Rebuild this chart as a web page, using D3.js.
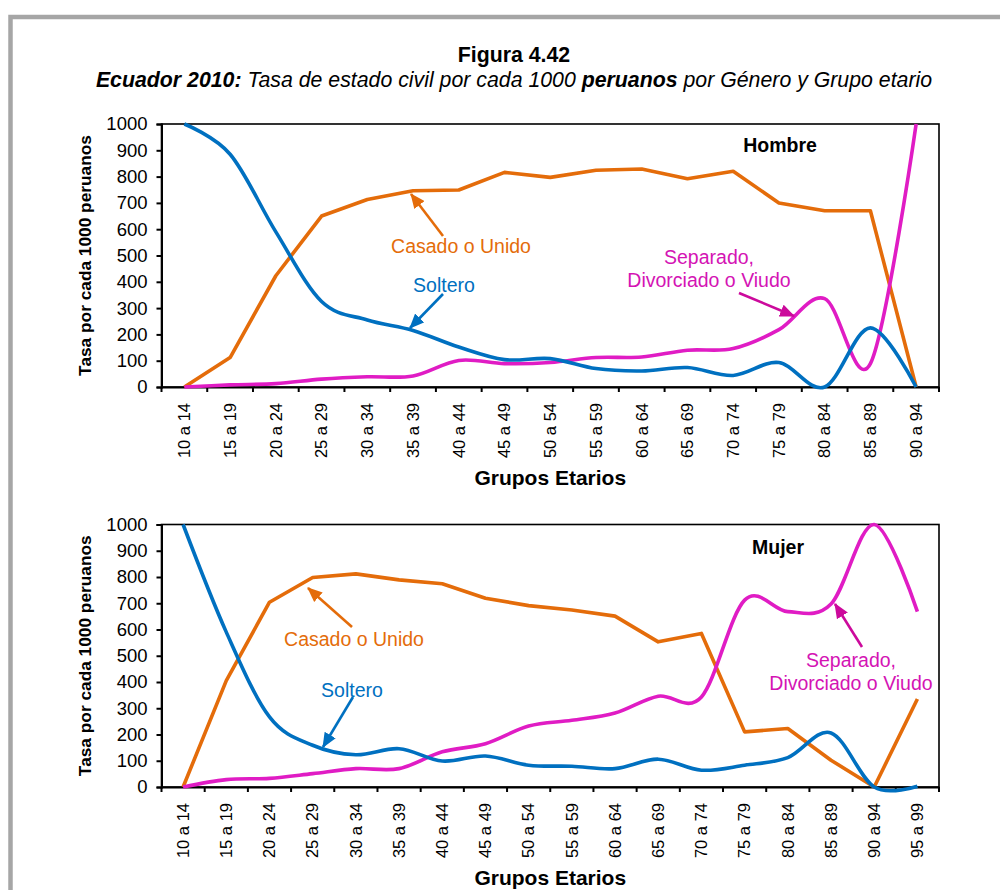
<!DOCTYPE html>
<html>
<head>
<meta charset="utf-8">
<script src="https://cdn.jsdelivr.net/npm/d3@7"></script>
<style>
  html, body { margin: 0; padding: 0; background: #ffffff; }
  svg { display: block; font-family: "Liberation Sans", Arial, sans-serif; }
</style>
</head>
<body>
<svg id="chart" width="1000" height="890"></svg>
<script>
// ---------- DATA ----------
const catsHombre = ["10 a 14","15 a 19","20 a 24","25 a 29","30 a 34","35 a 39","40 a 44","45 a 49","50 a 54","55 a 59","60 a 64","65 a 69","70 a 74","75 a 79","80 a 84","85 a 89","90 a 94"];
const catsMujer = ["10 a 14","15 a 19","20 a 24","25 a 29","30 a 34","35 a 39","40 a 44","45 a 49","50 a 54","55 a 59","60 a 64","65 a 69","70 a 74","75 a 79","80 a 84","85 a 89","90 a 94","95 a 99"];

const hombreSoltero   = [1000, 885, 590, 325, 255, 215, 152, 104, 108, 70, 61, 74, 44, 93, 0, 225, 0];
const hombreCasado    = [0, 112, 423, 650, 713, 746, 749, 816, 797, 824, 829, 792, 820, 700, 670, 670, 0];
const hombreSeparado  = [0, 8, 13, 30, 39, 42, 101, 89, 93, 112, 114, 140, 146, 218, 336, 89, 1000];

const mujerSoltero    = [1000, 590, 267, 159, 123, 146, 99, 118, 83, 79, 70, 106, 64, 83, 112, 206, 0, 3];
const mujerCasado     = [0, 405, 704, 798, 812, 789, 774, 719, 691, 674, 651, 553, 585, 210, 223, 102, 0, 335];
const mujerSeparado   = [0, 28, 33, 51, 70, 70, 134, 165, 232, 254, 282, 346, 343, 712, 668, 697, 1000, 668];

const yTicks = [0, 100, 200, 300, 400, 500, 600, 700, 800, 900, 1000];

const titleLine1 = "Figura 4.42";
const yAxisTitle = "Tasa por cada 1000 peruanos";
const xAxisTitle = "Grupos Etarios";

// ---------- STYLE ----------
const C_BLUE = "#0070c0";
const C_ORANGE = "#e46c0a";
const C_PINK = "#e01cc4";
const C_PINK_TXT = "#d414b4";
const C_PINK_ARROW = "#cc0a9c";
const FONT = "'Liberation Sans', Arial, sans-serif";

const svg = d3.select("#chart");

// outer gray frame
svg.append("rect")
  .attr("x", 10.5).attr("y", 17)
  .attr("width", 1000).attr("height", 900)
  .attr("fill", "none").attr("stroke", "#a6a6a6").attr("stroke-width", 4.5);

// Title
svg.append("text")
  .attr("x", 514).attr("y", 62)
  .attr("text-anchor", "middle")
  .attr("font-weight", "bold").attr("font-size", 21.3)
  .text(titleLine1);

const sub = svg.append("text")
  .attr("x", 514).attr("y", 87)
  .attr("text-anchor", "middle")
  .attr("font-style", "italic").attr("font-size", 21.3);
sub.append("tspan").attr("font-weight", "bold").text("Ecuador 2010:");
sub.append("tspan").text(" Tasa de estado civil por cada 1000 ");
sub.append("tspan").attr("font-weight", "bold").text("peruanos");
sub.append("tspan").text(" por Género y Grupo etario");

// arrow markers
const defs = svg.append("defs");
function marker(id, color) {
  defs.append("marker")
    .attr("id", id)
    .attr("markerUnits", "userSpaceOnUse")
    .attr("viewBox", "0 0 14 12")
    .attr("refX", 13).attr("refY", 6)
    .attr("markerWidth", 15).attr("markerHeight", 13)
    .attr("orient", "auto")
    .append("path").attr("d", "M0,0 L14,6 L0,12 Z").attr("fill", color);
}
marker("arBlue", C_BLUE);
marker("arOrange", C_ORANGE);
marker("arPink", C_PINK_ARROW);

function drawPanel(cfg) {
  const left = 161.5, right = 939;
  const g = svg.append("g");
  const x = d3.scaleBand().domain(cfg.cats).range([left, right]).paddingInner(0).paddingOuter(0);
  const y = d3.scaleLinear().domain([0, 1000]).range([cfg.bottom, cfg.top]);
  const cx = d => x(d) + x.bandwidth() / 2;

  // plot border (top/right)
  g.append("rect")
    .attr("x", left).attr("y", cfg.top)
    .attr("width", right - left).attr("height", cfg.bottom - cfg.top)
    .attr("fill", "none").attr("stroke", "#000").attr("stroke-width", 1.6);

  // Y axis
  const ya = g.append("g")
    .attr("transform", `translate(${left},0)`)
    .call(d3.axisLeft(y).tickValues(yTicks).tickSize(5).tickPadding(9).tickFormat(d3.format("d")));
  ya.select(".domain").attr("stroke", "#000").attr("stroke-width", 2);
  ya.selectAll(".tick line").attr("stroke", "#000").attr("stroke-width", 2);
  ya.selectAll(".tick text").attr("font-size", 18.5).attr("font-family", FONT).attr("fill", "#000");

  // X axis (ticks at band boundaries, labels at centers)
  const xa = g.append("g")
    .attr("transform", `translate(0,${cfg.bottom})`)
    .call(d3.axisBottom(x).tickSize(0).tickPadding(0));
  xa.select(".domain").attr("stroke", "#000").attr("stroke-width", 2);
  xa.selectAll(".tick text").remove();
  const bounds = cfg.cats.map(c => x(c)).concat([x(cfg.cats[cfg.cats.length - 1]) + x.bandwidth()]);
  xa.selectAll("line.bt").data(bounds).enter().append("line")
    .attr("class", "bt")
    .attr("x1", d => d).attr("x2", d => d)
    .attr("y1", 0).attr("y2", 5)
    .attr("stroke", "#000").attr("stroke-width", 2);
  g.selectAll("text.xl").data(cfg.cats).enter().append("text")
    .attr("class", "xl")
    .attr("transform", d => `translate(${cx(d)},${cfg.bottom + 16}) rotate(-90)`)
    .attr("text-anchor", "end")
    .attr("dy", "0.35em")
    .attr("font-size", 16.5)
    .text(d => d);

  // axis titles
  g.append("text")
    .attr("x", (left + right) / 2).attr("y", cfg.bottom + 98)
    .attr("text-anchor", "middle")
    .attr("font-weight", "bold").attr("font-size", 21)
    .text(xAxisTitle);
  g.append("text")
    .attr("transform", `translate(91,${(cfg.top + cfg.bottom) / 2}) rotate(-90)`)
    .attr("text-anchor", "middle")
    .attr("font-weight", "bold").attr("font-size", 17.3)
    .text(yAxisTitle);

  // series
  const smooth = d3.line().x((d, i) => cx(cfg.cats[i])).y(d => y(d)).curve(d3.curveCardinal.tension(0));
  const straight = d3.line().x((d, i) => cx(cfg.cats[i])).y(d => y(d));
  g.append("path").attr("d", straight(cfg.casado)).attr("fill", "none")
    .attr("stroke", C_ORANGE).attr("stroke-width", 3.6).attr("stroke-linejoin", "round");
  g.append("path").attr("d", smooth(cfg.separado)).attr("fill", "none")
    .attr("stroke", C_PINK).attr("stroke-width", 3.6).attr("stroke-linejoin", "round");
  g.append("path").attr("d", smooth(cfg.soltero)).attr("fill", "none")
    .attr("stroke", C_BLUE).attr("stroke-width", 3.6).attr("stroke-linejoin", "round");

  // panel label
  g.append("text")
    .attr("x", cfg.label.x).attr("y", cfg.label.y)
    .attr("text-anchor", "middle")
    .attr("font-weight", "bold").attr("font-size", 19.5)
    .text(cfg.label.text);

  // annotations
  cfg.notes.forEach(n => {
    n.lines.forEach((t, i) => {
      g.append("text")
        .attr("x", n.x).attr("y", n.y + i * 23)
        .attr("text-anchor", "middle")
        .attr("font-size", 19.5)
        .attr("fill", n.color)
        .text(t);
    });
    g.append("line")
      .attr("x1", n.a[0]).attr("y1", n.a[1]).attr("x2", n.a[2]).attr("y2", n.a[3])
      .attr("stroke", n.arrowColor).attr("stroke-width", 2.6)
      .attr("marker-end", `url(#${n.marker})`);
  });
}

drawPanel({
  cats: catsHombre, top: 124, bottom: 387,
  soltero: hombreSoltero, casado: hombreCasado, separado: hombreSeparado,
  label: { text: "Hombre", x: 780, y: 152 },
  notes: [
    { lines: ["Casado o Unido"], x: 461, y: 253, color: C_ORANGE, arrowColor: C_ORANGE, marker: "arOrange", a: [443, 236, 411, 194] },
    { lines: ["Soltero"], x: 444, y: 292, color: C_BLUE, arrowColor: C_BLUE, marker: "arBlue", a: [443, 294, 410, 328] },
    { lines: ["Separado,", "Divorciado o Viudo"], x: 709, y: 264, color: C_PINK_TXT, arrowColor: C_PINK_ARROW, marker: "arPink", a: [739, 293, 794, 316] }
  ]
});

drawPanel({
  cats: catsMujer, top: 524.5, bottom: 787,
  soltero: mujerSoltero, casado: mujerCasado, separado: mujerSeparado,
  label: { text: "Mujer", x: 778, y: 554 },
  notes: [
    { lines: ["Casado o Unido"], x: 354, y: 646, color: C_ORANGE, arrowColor: C_ORANGE, marker: "arOrange", a: [352, 627, 308, 588] },
    { lines: ["Soltero"], x: 352, y: 697, color: C_BLUE, arrowColor: C_BLUE, marker: "arBlue", a: [353, 697, 323, 747] },
    { lines: ["Separado,", "Divorciado o Viudo"], x: 851, y: 667, color: C_PINK_TXT, arrowColor: C_PINK_ARROW, marker: "arPink", a: [862, 647, 835, 604] }
  ]
});
</script>
</body>
</html>
